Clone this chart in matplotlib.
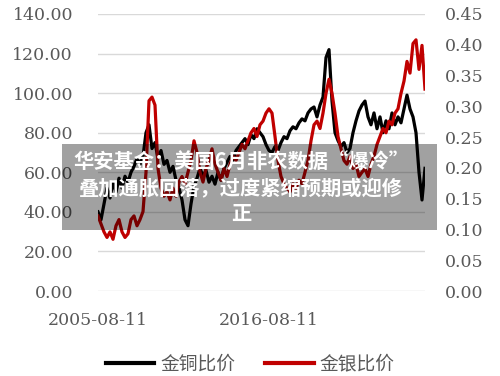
import matplotlib
matplotlib.use("Agg")
import matplotlib.pyplot as plt
from matplotlib.patches import Rectangle
from matplotlib.lines import Line2D

# ---- data ----
tick_labels = ["2005-08-11", "2016-08-11"]
tick_positions = [0, 57]

gold_copper = [40, 36, 44, 52, 47, 55, 50, 57, 52, 58, 55, 60, 63, 67, 64, 68, 80, 84, 72, 75,
               67, 71, 64, 66, 60, 63, 56, 52, 46, 36, 33, 44, 53, 57, 62, 58, 61, 55, 58, 54,
               60, 56, 62, 65, 68, 66, 71, 73, 75, 77, 74, 79, 77, 82, 80, 78, 74, 71, 70, 73,
               71, 75, 78, 77, 81, 83, 82, 85, 87, 86, 90, 92, 93, 88, 94, 98, 118, 122, 96, 80,
               76, 73, 75, 70, 72, 80, 86, 91, 94, 96, 88, 84, 90, 82, 88, 80, 86, 82, 90, 84,
               88, 85, 92, 99, 92, 88, 80, 60, 46, 62]

gold_silver = [0.122, 0.109, 0.096, 0.087, 0.096, 0.084, 0.106, 0.116, 0.096, 0.087,
               0.093, 0.116, 0.122, 0.106, 0.116, 0.129, 0.193, 0.309, 0.315, 0.302,
               0.199, 0.167, 0.154, 0.161, 0.148, 0.167, 0.154, 0.177, 0.186, 0.174,
               0.193, 0.212, 0.244, 0.225, 0.193, 0.177, 0.199, 0.212, 0.231, 0.206,
               0.193, 0.180, 0.199, 0.186, 0.206, 0.219, 0.212, 0.225, 0.238, 0.231,
               0.244, 0.257, 0.264, 0.251, 0.270, 0.276, 0.289, 0.296, 0.289, 0.251,
               0.212, 0.186, 0.174, 0.167, 0.161, 0.174, 0.167, 0.180, 0.174, 0.193,
               0.212, 0.244, 0.270, 0.276, 0.264, 0.289, 0.321, 0.344, 0.321, 0.289,
               0.251, 0.231, 0.212, 0.206, 0.219, 0.199, 0.206, 0.186, 0.193, 0.199,
               0.186, 0.206, 0.219, 0.238, 0.251, 0.264, 0.257, 0.276, 0.270, 0.289,
               0.296, 0.321, 0.341, 0.373, 0.354, 0.402, 0.408, 0.360, 0.399, 0.328]

left_ticks = [0, 20, 40, 60, 80, 100, 120, 140]
right_ticks = [0, 0.05, 0.10, 0.15, 0.20, 0.25, 0.30, 0.35, 0.40, 0.45]

series_names = ["金铜比价", "金银比价"]
title_text = "华安基金：美国6月非农数据“爆冷”\n叠加通胀回落，过度紧缩预期或迎修\n正"

# ---- figure ----
W, H = 500, 376
fig = plt.figure(figsize=(W / 100, H / 100), dpi=100)
ax = fig.add_axes([98 / W, 1 - 291 / H, (425 - 98) / W, (291 - 14) / H])
ax2 = ax.twinx()

grey = "#595959"
serif = "DejaVu Serif"

x = list(range(len(gold_copper)))
ax.plot(x, gold_copper, color="#000000", lw=2.3, solid_joinstyle="round", zorder=3)
ax2.plot(x, gold_silver, color="#c00000", lw=2.3, solid_joinstyle="round", zorder=3)

ax.set_ylim(0, 140)
ax2.set_ylim(0, 0.45)
ax.set_xlim(0, len(gold_copper) - 1)
ax.set_yticks(left_ticks)
ax.set_yticklabels([f"{v:.2f}" for v in left_ticks], fontfamily=serif, fontsize=12.5, color=grey)
ax2.set_yticks(right_ticks)
ax2.set_yticklabels([f"{v:.2f}" for v in right_ticks], fontfamily=serif, fontsize=12.5, color=grey)
ax.set_xticks(tick_positions)
ax.set_xticklabels(tick_labels, fontfamily=serif, fontsize=12.5, color=grey)

ax.tick_params(axis="y", length=0, pad=18)
ax2.tick_params(axis="y", length=0, pad=14)
ax.tick_params(axis="x", length=0, pad=15)
ax.grid(axis="y", color="#d9d9d9", lw=1)
ax.set_axisbelow(True)
for a in (ax, ax2):
    for s in a.spines.values():
        s.set_visible(False)

# legend
handles = [Line2D([], [], color="#000000", lw=3), Line2D([], [], color="#c00000", lw=3)]
leg = fig.legend(handles, series_names, loc="center", bbox_to_anchor=(0.5, 1 - 364 / H),
                 ncol=2, frameon=False, handlelength=2.6, columnspacing=1.6, handletextpad=0.3,
                 prop={"family": ["Noto Sans CJK SC", "DejaVu Sans"], "size": 13.5})
for t in leg.get_texts():
    t.set_color(grey)

# overlay box with headline
fig.patches.append(Rectangle((62 / W, 1 - 230 / H), (437 - 62) / W, (230 - 144) / H,
                             transform=fig.transFigure, facecolor="#000000", alpha=0.37,
                             edgecolor="none", zorder=10))
fig.text(241 / W, 1 - 188 / H, title_text, ha="center", va="center", color="white",
         fontsize=14.6, fontweight="bold", linespacing=1.25,
         family=["Noto Sans CJK SC", "DejaVu Sans"], zorder=11)

fig.savefig("out.png", dpi=100)
